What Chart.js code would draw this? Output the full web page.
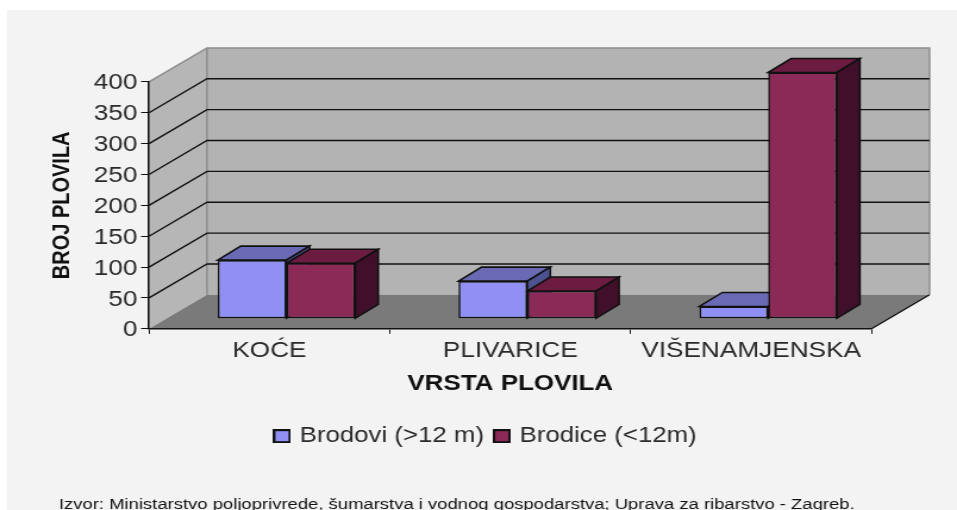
<!DOCTYPE html>
<html>
<head>
<meta charset="utf-8">
<script src="https://cdn.jsdelivr.net/npm/chart.js@4"></script>
<style>
html,body{margin:0;padding:0;background:#fff;width:957px;height:510px;overflow:hidden}
#panel{position:absolute;left:7px;top:10px;right:0;bottom:0;background:#f3f3f3}
#wrap{position:absolute;left:0;top:0;width:804px;height:510px;transform-origin:0 0;transform:scaleX(1.1903);filter:blur(0.4px)}
</style>
</head>
<body>
<div id="panel"></div>
<div id="wrap"><canvas id="c" width="804" height="510"></canvas></div>
<script>
const categories = ['KOĆE', 'PLIVARICE', 'VIŠENAMJENSKA'];
const brodovi = [95, 61, 20];
const brodice = [90, 45, 399];
const seriesNames = ['Brodovi (>12 m)', 'Brodice (<12m)'];
const frontColors = ['#9090f4', '#8b2a57'];
const topColors = ['#6a6ab4', '#6b1c40'];
const sideColors = ['#4d5290', '#40102a'];
const yTitle = 'BROJ PLOVILA';
const xTitle = 'VRSTA PLOVILA';
const footer = 'Izvor: Ministarstvo poljoprivrede, šumarstva i vodnog gospodarstva; Uprava za ribarstvo - Zagreb.';

const FONT = '"Liberation Sans", Arial, sans-serif';
const WALL = {dx: 48.7, dy: -34};     // depth of the plot box
const BAR = {dx: 19.3, dy: -14, ox: 14.3, oy: -10}; // depth and inset of the bars

function poly(ctx, pts, fill, stroke, lw) {
  ctx.beginPath();
  pts.forEach((p, i) => i ? ctx.lineTo(p[0], p[1]) : ctx.moveTo(p[0], p[1]));
  ctx.closePath();
  if (fill) { ctx.fillStyle = fill; ctx.fill(); }
  if (stroke) { ctx.strokeStyle = stroke; ctx.lineWidth = lw || 1; ctx.stroke(); }
}

// legend swatch: a small filled, outlined square
function swatch(color) {
  const c = document.createElement('canvas');
  c.width = 15;
  c.height = 14;
  const g = c.getContext('2d');
  g.fillStyle = color;
  g.fillRect(0, 0, 15, 14);
  g.strokeStyle = '#111';
  g.lineWidth = 2;
  g.strokeRect(1, 1, 13, 12);
  return c;
}

const box3d = {
  id: 'box3d',
  afterLayout(chart) {
    const lg = chart.legend;
    if (lg) { lg.left += 43; lg.right += 43; }
  },
  beforeDraw(chart) {
    const {ctx, chartArea: a, scales: {y}} = chart;
    const d = WALL;
    ctx.save();
    // left wall, back wall, floor
    poly(ctx, [[a.left, a.top], [a.left + d.dx, a.top + d.dy], [a.left + d.dx, a.bottom + d.dy], [a.left, a.bottom]], '#b6b6b6');
    poly(ctx, [[a.left + d.dx, a.top + d.dy], [a.right + d.dx, a.top + d.dy], [a.right + d.dx, a.bottom + d.dy], [a.left + d.dx, a.bottom + d.dy]], '#b3b3b3');
    poly(ctx, [[a.left, a.bottom], [a.left + d.dx, a.bottom + d.dy], [a.right + d.dx, a.bottom + d.dy], [a.right, a.bottom]], '#7a7a7a');
    // wall edges
    ctx.strokeStyle = '#8c8c8c';
    ctx.lineWidth = 1.5;
    ctx.beginPath();
    ctx.moveTo(a.left, a.top);
    ctx.lineTo(a.left + d.dx, a.top + d.dy);
    ctx.lineTo(a.right + d.dx, a.top + d.dy);
    ctx.lineTo(a.right + d.dx, a.bottom + d.dy);
    ctx.moveTo(a.left + d.dx, a.top + d.dy);
    ctx.lineTo(a.left + d.dx, a.bottom + d.dy);
    ctx.stroke();
    // grid lines
    ctx.strokeStyle = '#111';
    ctx.lineWidth = 1.4;
    ctx.beginPath();
    y.ticks.forEach(t => {
      if (t.value === 0 || t.value === y.max) return;
      const py = y.getPixelForValue(t.value);
      ctx.moveTo(a.left, py);
      ctx.lineTo(a.left + d.dx, py + d.dy);
      ctx.lineTo(a.right + d.dx, py + d.dy);
    });
    // front-right floor edge
    ctx.moveTo(a.right, a.bottom);
    ctx.lineTo(a.right + d.dx, a.bottom + d.dy);
    ctx.stroke();
    ctx.restore();
  },
  beforeDatasetsDraw(chart) {
    const ctx = chart.ctx;
    ctx.save();
    ctx.translate(BAR.ox, BAR.oy);
    // extrusions first; the library then paints the front faces over them
    chart.data.datasets.forEach((ds, i) => {
      chart.getDatasetMeta(i).data.forEach(el => {
        const {x, y, base, width} = el.getProps(['x', 'y', 'base', 'width'], true);
        const l = x - width / 2, r = x + width / 2;
        poly(ctx, [[l, y], [l + BAR.dx, y + BAR.dy], [r + BAR.dx, y + BAR.dy], [r, y]], topColors[i], '#111', 1.6);
        poly(ctx, [[r, y], [r + BAR.dx, y + BAR.dy], [r + BAR.dx, base + BAR.dy], [r, base]], sideColors[i], '#111', 1.6);
      });
    });
  },
  afterDatasetsDraw(chart) {
    chart.ctx.restore();
  },
  afterDraw(chart) {
    const ctx = chart.ctx;
    ctx.save();
    ctx.font = '15.5px ' + FONT;
    ctx.fillStyle = '#111';
    ctx.textBaseline = 'alphabetic';
    ctx.textAlign = 'left';
    ctx.fillText(footer, 49.5, 509);
    ctx.restore();
  }
};

new Chart(document.getElementById('c'), {
  type: 'bar',
  data: {
    labels: categories,
    datasets: [
      {label: seriesNames[0], data: brodovi, backgroundColor: frontColors[0], borderColor: '#111', borderWidth: 1.6, borderSkipped: false, clip: false, pointStyle: swatch(frontColors[0])},
      {label: seriesNames[1], data: brodice, backgroundColor: frontColors[1], borderColor: '#111', borderWidth: 1.6, borderSkipped: false, clip: false, pointStyle: swatch(frontColors[1])}
    ]
  },
  options: {
    responsive: false,
    animation: false,
    events: [],
    devicePixelRatio: 1,
    categoryPercentage: 0.571,
    barPercentage: 1,
    layout: {padding: {left: 0, right: 71.8, top: 81.9, bottom: 53}},
    plugins: {
      tooltip: {enabled: false},
      legend: {
        position: 'bottom',
        labels: {
          font: {family: FONT, size: 21.7},
          color: '#2a2a2a',
          usePointStyle: true,
          pointStyleWidth: 8,
          boxHeight: 14,
          padding: 11
        }
      }
    },
    scales: {
      x: {
        afterFit(s) { s.height = 85.5; },
        grid: {drawOnChartArea: false, drawTicks: true, tickLength: 5, color: '#111', offset: true},
        border: {color: '#111', width: 1.6},
        ticks: {font: {family: FONT, size: 22}, color: '#2a2a2a', padding: 4, maxRotation: 0, autoSkip: false},
        title: {display: true, text: xTitle, color: '#111', font: {family: FONT, size: 21.8, weight: 'bold'}, padding: {top: 0, bottom: 17}}
      },
      y: {
        min: 0,
        max: 400,
        afterFit(s) { s.width = 125.2; },
        grid: {drawOnChartArea: false, drawTicks: true, tickLength: 6.7, color: '#111'},
        border: {color: '#111', width: 1.6},
        ticks: {stepSize: 50, font: {family: FONT, size: 22}, color: '#2a2a2a', padding: 3, labelOffset: 1.5},
        title: {display: true, text: yTitle, color: '#111', font: {family: FONT, size: 20, weight: 'bold'}, padding: {top: 40, bottom: 0}}
      }
    }
  },
  plugins: [box3d]
});
</script>
</body>
</html>
